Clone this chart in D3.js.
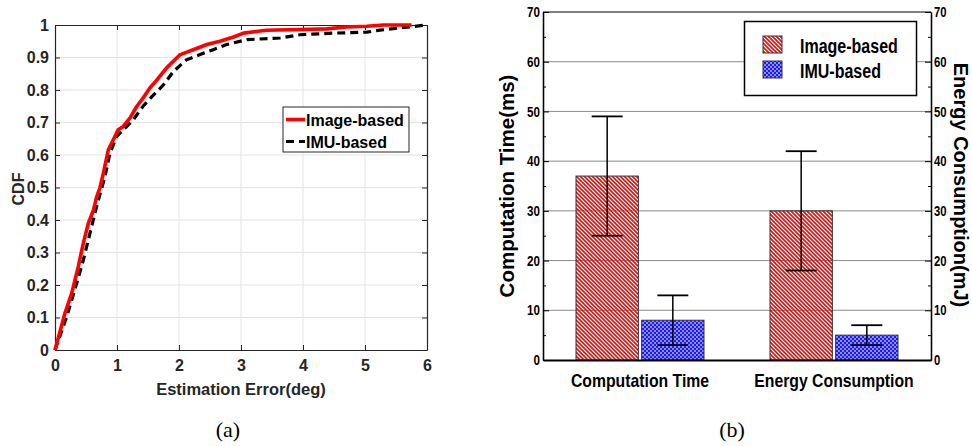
<!DOCTYPE html>
<html>
<head>
<meta charset="utf-8">
<script src="https://cdn.jsdelivr.net/npm/d3@7"></script>
<style>
  html, body { margin: 0; padding: 0; background: #fff; }
  svg { display: block; }
</style>
</head>
<body>
<svg id="chart" width="972" height="446"></svg>
<script>
// ---------- Data: (a) CDF ----------
const imageErr = [0, 0.16, 0.27, 0.376, 0.457, 0.538, 0.62, 0.67, 0.726, 0.78, 0.86, 0.94, 1.02, 1.1, 1.21, 1.32, 1.42, 1.53, 1.64, 1.8, 2.02, 2.23, 2.45, 2.66, 2.88, 3.04, 3.41, 3.95, 4.38, 4.7, 5.03, 5.3, 5.75];
const imageCdf = [0, 0.113, 0.175, 0.257, 0.329, 0.39, 0.43, 0.47, 0.5, 0.544, 0.616, 0.647, 0.678, 0.688, 0.714, 0.75, 0.775, 0.806, 0.83, 0.868, 0.909, 0.924, 0.94, 0.95, 0.963, 0.975, 0.984, 0.986, 0.988, 0.994, 0.996, 1.0, 1.0];
const imuErr = [0, 0.19, 0.35, 0.457, 0.565, 0.67, 0.726, 0.806, 0.887, 0.995, 1.13, 1.26, 1.42, 1.59, 1.75, 1.91, 2.12, 2.34, 2.55, 2.77, 3.1, 3.63, 3.95, 4.49, 5.03, 5.24, 5.56, 6.0];
const imuCdf = [0, 0.103, 0.205, 0.277, 0.36, 0.44, 0.48, 0.534, 0.606, 0.657, 0.683, 0.708, 0.75, 0.785, 0.816, 0.857, 0.893, 0.909, 0.924, 0.94, 0.955, 0.96, 0.97, 0.975, 0.978, 0.984, 0.991, 1.0];
const cdfXTicks = [0, 1, 2, 3, 4, 5, 6];
const cdfYTicks = [0, 0.1, 0.2, 0.3, 0.4, 0.5, 0.6, 0.7, 0.8, 0.9, 1];
const cdfSeriesNames = ["Image-based", "IMU-based"];

// ---------- Data: (b) bars ----------
const barCategories = ["Computation Time", "Energy Consumption"];
const barSeries = ["Image-based", "IMU-based"];
const imageMean = [37, 30];
const imageLow = [25, 18];
const imageHigh = [49, 42];
const imuMean = [8, 5];
const imuLow = [3, 3];
const imuHigh = [13, 7];
const barYTicks = [0, 10, 20, 30, 40, 50, 60, 70];
const barYMinorTicks = [5, 15, 25, 35, 45, 55, 65];

const svg = d3.select("#chart");
const defs = svg.append("defs");
const boldFont = "'Liberation Sans', Arial, sans-serif";

// condense text horizontally (narrow font look)
function condense(sel, factor) {
  sel.each(function () {
    const w = this.getComputedTextLength();
    if (w > 0) {
      d3.select(this).attr("textLength", w * factor).attr("lengthAdjust", "spacingAndGlyphs");
    }
  });
}

// ================= (a) CDF chart =================
const A = { left: 55, right: 427, top: 25, bottom: 350 };
const xA = d3.scaleLinear().domain([0, 6]).range([A.left, A.right]);
const yA = d3.scaleLinear().domain([0, 1]).range([A.bottom, A.top]);
const gA = svg.append("g");

gA.append("g").selectAll("line").data(cdfXTicks.slice(1, -1)).join("line")
  .attr("x1", d => xA(d)).attr("x2", d => xA(d)).attr("y1", A.top).attr("y2", A.bottom)
  .attr("stroke", "#e3e3e3").attr("stroke-width", 1);
gA.append("g").selectAll("line").data(cdfYTicks.slice(1, -1)).join("line")
  .attr("x1", A.left).attr("x2", A.right).attr("y1", d => yA(d)).attr("y2", d => yA(d))
  .attr("stroke", "#e3e3e3").attr("stroke-width", 1);

const axA_bottom = gA.append("g").attr("transform", `translate(0,${A.bottom})`)
  .call(d3.axisBottom(xA).tickValues(cdfXTicks).tickSizeInner(-5).tickSizeOuter(0).tickPadding(10).tickFormat(d3.format("d")));
const axA_left = gA.append("g").attr("transform", `translate(${A.left},0)`)
  .call(d3.axisLeft(yA).tickValues(cdfYTicks).tickSizeInner(-5).tickSizeOuter(0).tickPadding(6).tickFormat(d => d === 0 || d === 1 ? d3.format("d")(d) : d3.format(".1f")(d)));
const axA_top = gA.append("g").attr("transform", `translate(0,${A.top})`)
  .call(d3.axisTop(xA).tickValues(cdfXTicks).tickSizeInner(-5).tickSizeOuter(0).tickFormat(""));
const axA_right = gA.append("g").attr("transform", `translate(${A.right},0)`)
  .call(d3.axisRight(yA).tickValues(cdfYTicks).tickSizeInner(-5).tickSizeOuter(0).tickFormat(""));
[axA_bottom, axA_left, axA_top, axA_right].forEach(ax => {
  ax.select(".domain").attr("stroke", "#262626").attr("stroke-width", 1.2);
  ax.selectAll(".tick line").attr("stroke", "#262626");
  ax.selectAll("text").attr("font-family", boldFont).attr("font-weight", "bold")
    .attr("font-size", 16).attr("fill", "#262626");
});

const lineA = d3.line().x(d => xA(d[0])).y(d => yA(d[1]));
const imuPts = imuErr.map((x, i) => [x, imuCdf[i]]);
const imgPts = imageErr.map((x, i) => [x, imageCdf[i]]);
gA.append("path").datum(imuPts).attr("d", lineA)
  .attr("fill", "none").attr("stroke", "#000").attr("stroke-width", 3.2)
  .attr("stroke-dasharray", "8,5");
gA.append("path").datum(imgPts).attr("d", lineA)
  .attr("fill", "none").attr("stroke", "#ff0000").attr("stroke-width", 3.6)
  .attr("stroke-linejoin", "round");

gA.append("text").attr("x", (A.left + A.right) / 2).attr("y", 395)
  .attr("text-anchor", "middle").attr("font-family", boldFont).attr("font-weight", "bold")
  .attr("font-size", 16.5).attr("fill", "#262626").text("Estimation Error(deg)");
gA.append("text").attr("transform", `translate(24,189) rotate(-90)`)
  .attr("text-anchor", "middle").attr("font-family", boldFont).attr("font-weight", "bold")
  .attr("font-size", 16).attr("fill", "#262626").text("CDF");

const legA = gA.append("g");
legA.append("rect").attr("x", 283).attr("y", 107).attr("width", 126).attr("height", 45)
  .attr("fill", "#fff").attr("stroke", "#262626").attr("stroke-width", 1);
legA.append("line").attr("x1", 286).attr("x2", 305).attr("y1", 119.5).attr("y2", 119.5)
  .attr("stroke", "#ff0000").attr("stroke-width", 3.6);
legA.append("line").attr("x1", 286).attr("x2", 305).attr("y1", 141.5).attr("y2", 141.5)
  .attr("stroke", "#000").attr("stroke-width", 3.2).attr("stroke-dasharray", "8,5");
legA.selectAll("text.lg").data(cdfSeriesNames).join("text")
  .attr("x", 306).attr("y", (d, i) => 126 + i * 22)
  .attr("font-family", boldFont).attr("font-weight", "bold").attr("font-size", 16)
  .attr("fill", "#000").text(d => d);

svg.append("text").attr("x", 228).attr("y", 437).attr("text-anchor", "middle")
  .attr("font-family", "'Liberation Serif', 'Times New Roman', serif").attr("font-size", 22)
  .text("(a)");

// ================= (b) bar chart =================
const B = { left: 543, right: 931, top: 12, bottom: 360 };
const xB = d3.scaleBand().domain(barCategories).range([B.left, B.right]).paddingInner(0).paddingOuter(0);
const xSub = d3.scaleBand().domain(barSeries).range([0, 128]).paddingInner(0.05);
const yB = d3.scaleLinear().domain([0, 70]).range([B.bottom, B.top]);
const gB = svg.append("g");

const hatch = defs.append("pattern").attr("id", "hatchRed").attr("patternUnits", "userSpaceOnUse")
  .attr("width", 4).attr("height", 4);
hatch.append("path").attr("d", "M-1,-1 L5,5 M-1,3 L1,5 M3,-1 L5,1")
  .attr("stroke", "#ff0000").attr("stroke-width", 1.6);
const cross = defs.append("pattern").attr("id", "crossBlue").attr("patternUnits", "userSpaceOnUse")
  .attr("width", 4).attr("height", 4);
cross.append("rect").attr("width", 4).attr("height", 4).attr("fill", "#1a1aff");
cross.append("path").attr("d", "M1,0 L2,1 L1,2 L0,1 Z M3,2 L4,3 L3,4 L2,3 Z").attr("fill", "#ffffff");

gB.append("g").selectAll("line").data(barYTicks.slice(1, -1)).join("line")
  .attr("x1", B.left).attr("x2", B.right).attr("y1", d => yB(d)).attr("y2", d => yB(d))
  .attr("stroke", "#8c8c8c").attr("stroke-width", 1);

const barData = [];
barCategories.forEach((c, i) => {
  barData.push({ cat: c, ser: barSeries[0], v: imageMean[i], lo: imageLow[i], hi: imageHigh[i], fill: "url(#hatchRed)" });
  barData.push({ cat: c, ser: barSeries[1], v: imuMean[i], lo: imuLow[i], hi: imuHigh[i], fill: "url(#crossBlue)" });
});
const groupOffset = (xB.bandwidth() - 128) / 2;
const bx = d => xB(d.cat) + groupOffset + xSub(d.ser);
gB.append("g").selectAll("rect").data(barData).join("rect")
  .attr("x", bx).attr("y", d => yB(d.v))
  .attr("width", xSub.bandwidth()).attr("height", d => yB(0) - yB(d.v))
  .attr("fill", d => d.fill).attr("stroke", "#333").attr("stroke-width", 1);

const eb = gB.append("g").selectAll("g").data(barData).join("g");
const cx = d => bx(d) + xSub.bandwidth() / 2;
eb.append("line").attr("x1", cx).attr("x2", cx).attr("y1", d => yB(d.hi)).attr("y2", d => yB(d.lo))
  .attr("stroke", "#000").attr("stroke-width", 1.5);
eb.append("line").attr("x1", d => cx(d) - 15.5).attr("x2", d => cx(d) + 15.5)
  .attr("y1", d => yB(d.hi)).attr("y2", d => yB(d.hi)).attr("stroke", "#000").attr("stroke-width", 1.8);
eb.append("line").attr("x1", d => cx(d) - 15.5).attr("x2", d => cx(d) + 15.5)
  .attr("y1", d => yB(d.lo)).attr("y2", d => yB(d.lo)).attr("stroke", "#000").attr("stroke-width", 1.8);

const axB_left = gB.append("g").attr("transform", `translate(${B.left},0)`)
  .call(d3.axisLeft(yB).tickValues(barYTicks).tickSizeInner(-6).tickSizeOuter(0).tickPadding(3).tickFormat(d3.format("d")));
const axB_right = gB.append("g").attr("transform", `translate(${B.right},0)`)
  .call(d3.axisRight(yB).tickValues(barYTicks).tickSizeInner(-6).tickSizeOuter(0).tickPadding(3).tickFormat(d3.format("d")));
const axB_leftMinor = gB.append("g").attr("transform", `translate(${B.left},0)`)
  .call(d3.axisLeft(yB).tickValues(barYMinorTicks).tickSizeInner(-3).tickSizeOuter(0).tickFormat(""));
const axB_rightMinor = gB.append("g").attr("transform", `translate(${B.right},0)`)
  .call(d3.axisRight(yB).tickValues(barYMinorTicks).tickSizeInner(-3).tickSizeOuter(0).tickFormat(""));
[axB_left, axB_right, axB_leftMinor, axB_rightMinor].forEach(ax => {
  ax.select(".domain").attr("stroke", "#000").attr("stroke-width", 1.3);
  ax.selectAll(".tick line").attr("stroke", "#000");
  ax.selectAll("text").attr("font-family", boldFont).attr("font-weight", "bold")
    .attr("font-size", 14.5).attr("fill", "#000");
});
condense(axB_left.selectAll("text"), 0.8);
condense(axB_right.selectAll("text"), 0.78);

gB.append("line").attr("x1", B.left).attr("x2", B.right).attr("y1", B.top).attr("y2", B.top)
  .attr("stroke", "#000").attr("stroke-width", 1.2);
const axB_bottom = gB.append("g").attr("transform", `translate(0,${B.bottom})`)
  .call(d3.axisBottom(xB).tickSize(0).tickPadding(14));
axB_bottom.select(".domain").attr("stroke", "#000").attr("stroke-width", 2.2);
axB_bottom.selectAll("text").attr("font-family", boldFont).attr("font-weight", "bold")
  .attr("font-size", 19).attr("fill", "#000");
condense(axB_bottom.selectAll("text"), 0.83);

gB.append("text").attr("transform", `translate(514,186) rotate(-90)`)
  .attr("text-anchor", "middle").attr("font-family", boldFont).attr("font-weight", "bold")
  .attr("font-size", 20.5).attr("fill", "#000").text("Computation Time(ms)");
gB.append("text").attr("transform", `translate(953.5,185) rotate(90)`)
  .attr("text-anchor", "middle").attr("font-family", boldFont).attr("font-weight", "bold")
  .attr("font-size", 20).attr("fill", "#000").text("Energy Consumption(mJ)");

const legB = gB.append("g");
legB.append("rect").attr("x", 744.5).attr("y", 21.5).attr("width", 172).attr("height", 74)
  .attr("fill", "#fff").attr("stroke", "#000").attr("stroke-width", 1.5);
const legFills = ["url(#hatchRed)", "url(#crossBlue)"];
legB.selectAll("rect.sw").data(barSeries).join("rect").attr("class", "sw")
  .attr("x", 763).attr("y", (d, i) => 36 + i * 25).attr("width", 19).attr("height", 17)
  .attr("fill", (d, i) => legFills[i]).attr("stroke", "#333").attr("stroke-width", 1);
const legBText = legB.selectAll("text.lt").data(barSeries).join("text").attr("class", "lt")
  .attr("x", 800).attr("y", (d, i) => 52.5 + i * 25)
  .attr("font-family", boldFont).attr("font-weight", "bold").attr("font-size", 20)
  .attr("fill", "#000").text(d => d);
condense(legBText, 0.8);

svg.append("text").attr("x", 732).attr("y", 437).attr("text-anchor", "middle")
  .attr("font-family", "'Liberation Serif', 'Times New Roman', serif").attr("font-size", 22)
  .text("(b)");
</script>
</body>
</html>
